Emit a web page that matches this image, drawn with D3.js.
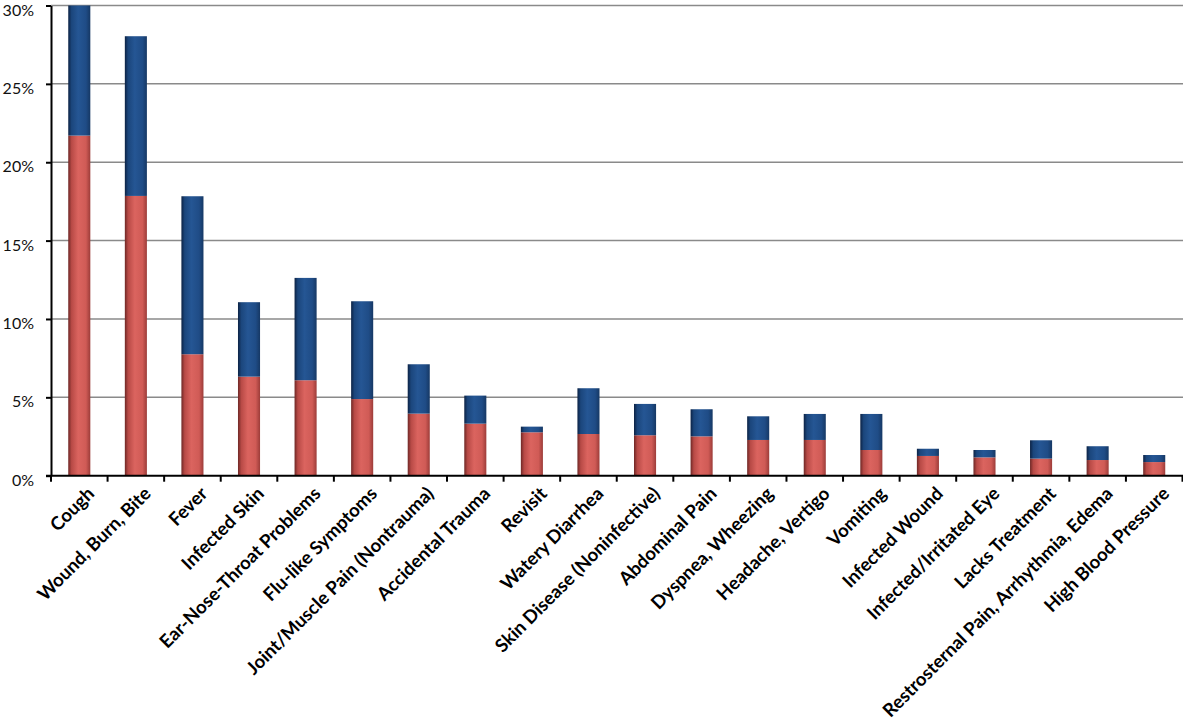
<!DOCTYPE html>
<html>
<head>
<meta charset="utf-8">
<script src="https://cdn.jsdelivr.net/npm/d3@7"></script>
<style>
  body { margin: 0; background: #fff; }
  svg text { font-family: Lato, "Open Sans", sans-serif; }
</style>
</head>
<body>
<svg id="chart" width="1183" height="721"></svg>
<script>
// categories and values (percent)
const categories = [
    "Cough", "Wound, Burn, Bite", "Fever", "Infected Skin", "Ear-Nose-Throat Problems",
    "Flu-like Symptoms", "Joint/Muscle Pain (Nontrauma)", "Accidental Trauma", "Revisit",
    "Watery Diarrhea", "Skin Disease (Noninfective)", "Abdominal Pain", "Dyspnea, Wheezing",
    "Headache, Vertigo", "Vomiting", "Infected Wound", "Infected/Irritated Eye",
    "Lacks Treatment", "Restrosternal Pain, Arrhythmia, Edema", "High Blood Pressure"
];
// lower (red) segment
const redValues = [21.7, 17.85, 7.75, 6.32, 6.09, 4.89, 3.96, 3.32, 2.77, 2.66,
    2.58, 2.51, 2.28, 2.28, 1.64, 1.26, 1.17, 1.09, 1.0, 0.87];
// upper (blue) segment
const blueValues = [8.3, 10.19, 10.08, 4.75, 6.53, 6.24, 3.15, 1.79, 0.36, 2.92,
    2.0, 1.73, 1.51, 1.66, 2.3, 0.46, 0.47, 1.17, 0.88, 0.45];
const yTicks = [0, 5, 10, 15, 20, 25, 30];

const svg = d3.select("#chart");
const margin = { left: 51, top: 5.5 };
const W = 1183;
const plotBottom = 475.7;

const x = d3.scaleBand().domain(categories).range([margin.left, W - 0.5]).paddingInner(0.61).paddingOuter(0.305);
const xEdges = d3.scaleLinear().domain([0, categories.length]).range([margin.left, W - 0.5]);
const y = d3.scaleLinear().domain([0, 30]).range([plotBottom, margin.top]);

// gradients for the cylinder look
const defs = svg.append("defs");
function grad(id, stops) {
    const g = defs.append("linearGradient").attr("id", id).attr("x1", "0%").attr("x2", "100%");
    stops.forEach(s => g.append("stop").attr("offset", s[0]).attr("stop-color", s[1]));
}
grad("red", [["0%", "#6e2725"], ["15%", "#b84a46"], ["45%", "#db645f"], ["80%", "#d05b56"], ["100%", "#9c3c39"]]);
grad("blue", [["0%", "#0c2244"], ["15%", "#1b467c"], ["45%", "#255694"], ["80%", "#1f4c86"], ["100%", "#163864"]]);

// gridlines
svg.append("g").selectAll("line").data(yTicks.filter(d => d > 0)).join("line")
    .attr("x1", margin.left).attr("x2", W)
    .attr("y1", d => y(d)).attr("y2", d => y(d))
    .attr("stroke", "#8a8a8a").attr("stroke-width", 1.5);

// stacked bars
const rows = categories.map((c, i) => ({ cat: c, red: redValues[i], blue: blueValues[i] }));
const stacked = d3.stack().keys(["red", "blue"])(rows);
svg.append("g").selectAll("g").data(stacked).join("g")
    .attr("fill", d => "url(#" + d.key + ")")
    .selectAll("rect").data(d => d).join("rect")
    .attr("x", d => x(d.data.cat))
    .attr("width", x.bandwidth())
    .attr("y", d => y(Math.min(d[1], 30)))
    .attr("height", d => y(d[0]) - y(Math.min(d[1], 30)));

// y axis
const yAxis = svg.append("g").attr("transform", "translate(" + margin.left + ",0)")
    .call(d3.axisLeft(y).tickValues(yTicks).tickFormat(d => d + "%").tickSize(5).tickSizeOuter(0));
yAxis.select(".domain").attr("stroke", "#000").attr("stroke-width", 2);
yAxis.selectAll(".tick line").attr("stroke", "#000").attr("stroke-width", 2);
yAxis.selectAll(".tick text").attr("x", -17).attr("dy", "0.6em").attr("font-size", 16).attr("fill", "#111")
    .style("font-family", "Lato, sans-serif");

// x axis line + ticks at category boundaries
const xg = svg.append("g");
xg.append("line").attr("x1", margin.left - 5).attr("x2", W).attr("y1", plotBottom).attr("y2", plotBottom)
    .attr("stroke", "#000").attr("stroke-width", 2);
xg.selectAll(".xt").data(d3.range(categories.length + 1)).join("line")
    .attr("class", "xt")
    .attr("x1", d => xEdges(d)).attr("x2", d => xEdges(d))
    .attr("y1", plotBottom).attr("y2", plotBottom + 6)
    .attr("stroke", "#000").attr("stroke-width", 2);

// x labels rotated
xg.selectAll(".xl").data(categories).join("text")
    .attr("class", "xl")
    .attr("transform", d => "translate(" + (x(d) + x.bandwidth() / 2 + 7) + "," + (plotBottom + 10) + ") rotate(-45)")
    .attr("text-anchor", "end")
    .attr("dy", "0.7em")
    .attr("font-size", 18.5)
    .attr("font-weight", "bold")
    .attr("fill", "#000")
    .text(d => d);
</script>
</body>
</html>
